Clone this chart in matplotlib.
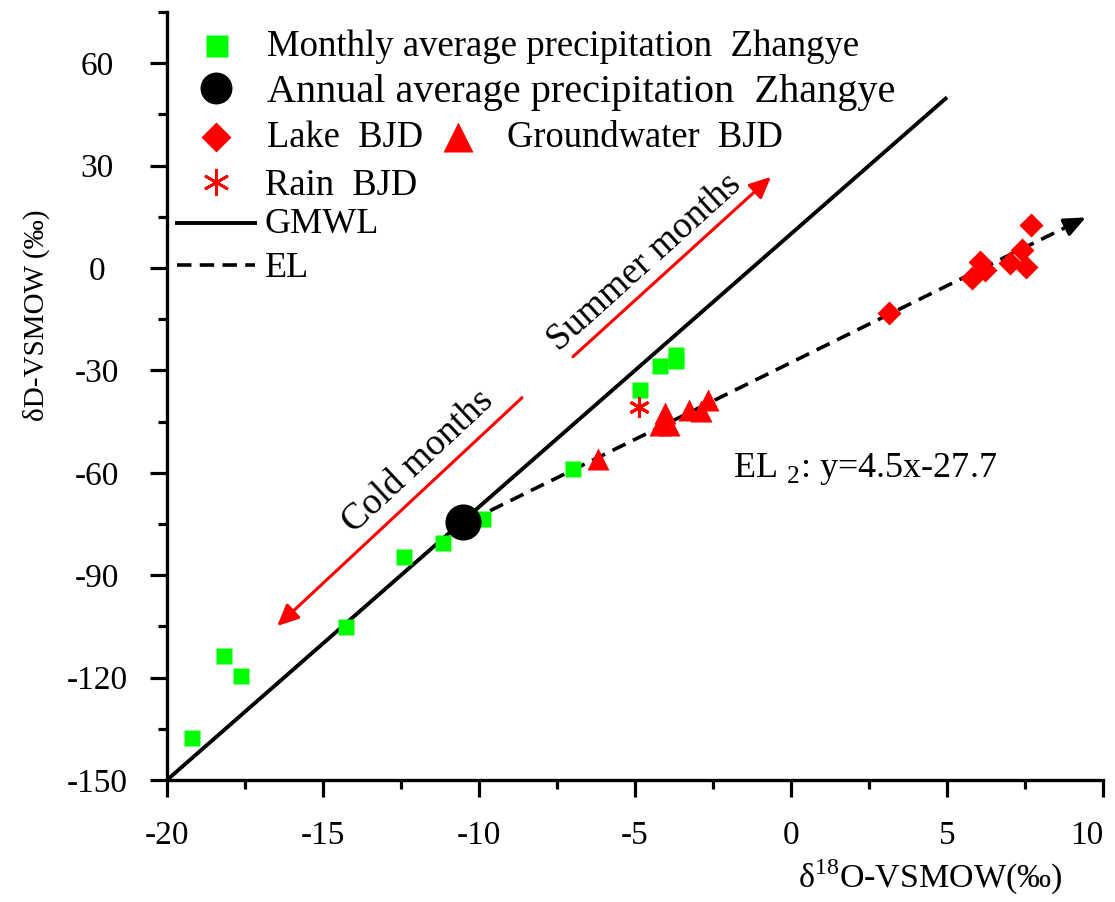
import matplotlib
matplotlib.use('Agg')
import matplotlib.pyplot as plt
import numpy as np
from matplotlib.ticker import MultipleLocator

plt.rcParams['font.family'] = ['Liberation Serif', 'DejaVu Serif']
plt.rcParams['mathtext.fontset'] = 'custom'
plt.rcParams['mathtext.rm'] = 'Liberation Serif'
plt.rcParams['axes.unicode_minus'] = False

# ---------------- data ----------------
monthly_d18o = [-19.2, -18.17, -17.63, -14.26, -12.4, -11.15, -9.87, -6.99, -4.84, -4.19, -3.69, -3.69]
monthly_dD = [-137.7, -113.8, -119.5, -105.1, -84.6, -80.5, -73.5, -58.9, -35.7, -28.7, -25.4, -27.3]
annual_d18o = [-10.52]
annual_dD = [-74.3]
lake_d18o = [3.15, 5.79, 6.06, 6.22, 7.02, 7.39, 7.53, 7.69]
lake_dD = [-13.3, -3.0, 1.85, -0.6, 1.4, 5.3, 0.4, 12.6]
gw_d18o = [-6.17, -4.04, -4.2, -3.9, -3.26, -2.9, -2.67]
gw_dD = [-55.9, -42.5, -46.0, -46.0, -41.6, -41.8, -38.7]
rain_d18o = [-4.86]
rain_dD = [-40.8]
gmwl_slope, gmwl_int = 8.0, 10.0
gmwl_x = [-20.0, 5.0]
el_slope, el_int = 4.5, -27.7
el_x = [-10.3, 9.0, 9.45]
summer_arrow = [(-6.99, -26.0), (-0.64, 26.7)]
cold_arrow = [(-8.62, -38.0), (-16.47, -104.9)]
xticks = [-20, -15, -10, -5, 0, 5, 10]
yticks = [-150, -120, -90, -60, -30, 0, 30, 60]

GREEN = '#00ff00'
RED = '#ff0000'
DASH = (0, (4.0, 2.3))

W, H = 1115, 902
fig = plt.figure(figsize=(W / 100, H / 100), dpi=100)
ax = fig.add_axes([167 / W, 1 - 780 / H, 936 / W, 768 / H])

ax.set_xlim(-20, 10)
ax.set_ylim(-150, 75)

# lines
gx = np.array(gmwl_x)
ax.plot(gx, gmwl_slope * gx + gmwl_int, color='k', lw=2.8, zorder=2, solid_capstyle='butt')
ex = np.array(el_x[:2])
ax.plot(ex, el_slope * ex + el_int, color='k', lw=2.6, ls=DASH, zorder=2)
ax.annotate('', xy=(el_x[2], el_slope * el_x[2] + el_int),
            xytext=(el_x[1], el_slope * el_x[1] + el_int),
            arrowprops=dict(arrowstyle='-|>,head_length=0.65,head_width=0.28', color='k',
                            lw=2.4, mutation_scale=20, shrinkA=0, shrinkB=0), zorder=2)

# points
ax.plot(monthly_d18o, monthly_dD, 's', ms=12.2, color=GREEN, mec='none', zorder=3)
ax.plot(annual_d18o, annual_dD, 'o', ms=26, color='k', mec='none', zorder=4)
ax.plot(lake_d18o, lake_dD, 'D', ms=12.5, color=RED, mec='none', zorder=3)
ax.plot(gw_d18o, gw_dD, '^', ms=16.5, color=RED, mec='none', zorder=3)
ax.plot(rain_d18o, rain_dD, marker=(6, 2, 0), ms=15, color=RED, mew=2.2, ls='none', zorder=3)

# red arrows
for (s, e) in (summer_arrow, cold_arrow):
    ax.annotate('', xy=e, xytext=s,
                arrowprops=dict(arrowstyle='-|>,head_length=0.65,head_width=0.3', color=RED,
                                lw=2.2, mutation_scale=20, shrinkA=0, shrinkB=0))

ax.text(-4.68, 1.76, 'Summer months', rotation=42, rotation_mode='anchor',
        ha='center', va='center', fontsize=27)
ax.text(-11.96, -56.8, 'Cold months', rotation=43, rotation_mode='anchor',
        ha='center', va='center', fontsize=27)
ax.text(-1.86, -61.2, 'EL $_\\mathregular{2}$: y=4.5x-27.7', ha='left', va='baseline', fontsize=26)

# axes style
for sp in ['top', 'right']:
    ax.spines[sp].set_visible(False)
for sp in ['left', 'bottom']:
    ax.spines[sp].set_linewidth(2.4)
ax.set_xticks(xticks)
ax.set_yticks(yticks)
ax.xaxis.set_minor_locator(MultipleLocator(2.5))
ax.yaxis.set_minor_locator(MultipleLocator(15))
ax.tick_params(which='major', direction='out', length=12.5, width=2.3, labelsize=24)
ax.tick_params(which='minor', direction='out', length=6.5, width=2.3)
ax.tick_params(axis='y', which='major', pad=38)
ax.tick_params(axis='x', which='major', pad=17)
plt.setp(ax.get_yticklabels(), ha='center')
ax.get_xticklabels()[-1].set_ha('right')

fig.text(36 / W, 1 - 315 / H, 'δD-VSMOW (‰)', rotation=90, ha='center', va='center', fontsize=21)
fig.text(930 / W, 1 - 888 / H, 'δ$^\\mathregular{18}$O-VSMOW(‰)', ha='center', va='baseline', fontsize=24.5)

# legend (manual layout in pixel space)
ov = fig.add_axes([0, 0, 1, 1], facecolor='none')
ov.set_xlim(0, W)
ov.set_ylim(H, 0)
ov.axis('off')
ov.plot([216.5], [46], 's', ms=16, color=GREEN, mec='none')
ov.text(267, 56, 'Monthly average precipitation  Zhangye', fontsize=26.5, va='baseline')
ov.plot([216], [88], 'o', ms=23, color='k', mec='none')
ov.text(267, 102, 'Annual average precipitation  Zhangye', fontsize=29, va='baseline')
ov.plot([216], [137], 'D', ms=15.5, color=RED, mec='none')
ov.text(267, 147, 'Lake  BJD', fontsize=26.3, va='baseline')
ov.plot([458], [137], '^', ms=21, color=RED, mec='none')
ov.text(507, 147, 'Groundwater  BJD', fontsize=26.3, va='baseline')
ov.plot([216], [182], marker=(6, 2, 0), ms=19, color=RED, mew=2.0, ls='none')
ov.text(265, 195, 'Rain  BJD', fontsize=26.3, va='baseline')
ov.plot([177, 255], [223, 223], color='k', lw=2.8)
ov.text(265, 233, 'GMWL', fontsize=26, va='baseline')
ov.plot([177, 255], [265, 265], color='k', lw=2.6, ls=DASH)
ov.text(265, 277, 'EL', fontsize=26, va='baseline')

fig.savefig('out.png', dpi=100)
